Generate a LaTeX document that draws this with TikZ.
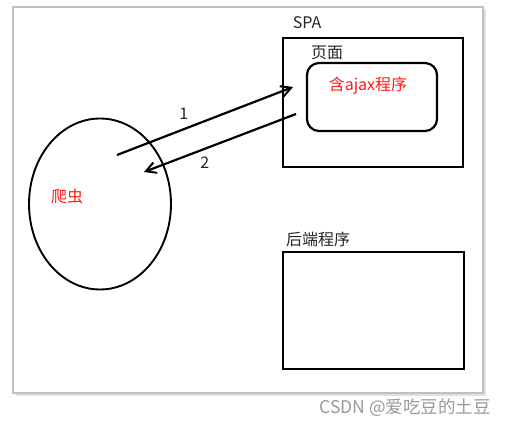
\documentclass[tikz,border=0pt]{standalone}
\usepackage{fontspec}
\setmainfont{Noto Sans CJK SC}
\usepackage{tikz}
\usetikzlibrary{arrows.meta,shapes.geometric}
\tikzstyle{Frame}=[draw=black!25, line width=1.6pt]
\tikzstyle{Box}=[draw=black, line width=2.4pt, shape=rectangle, inner sep=0pt]
\tikzstyle{Inner}=[draw=black, line width=2.2pt, shape=rectangle, rounded corners=12pt, inner sep=0pt]
\tikzstyle{Crawler}=[draw=black, line width=1.9pt, shape=ellipse, inner sep=0pt, minimum width=142pt, minimum height=171pt]
\tikzstyle{Label}=[font=\fontsize{16}{18}\selectfont, text=black!85, inner sep=0pt]
\tikzstyle{RedLabel}=[font=\fontsize{16}{18}\selectfont, text=red!90, inner sep=0pt]
\tikzstyle{arrow}=[line width=2.2pt, -{Straight Barb[length=10pt, width=11pt, line width=2pt]}]

\begin{document}
\begin{tikzpicture}[x=1pt, y=-1pt]
	\useasboundingbox (0,0) rectangle (517,427);
	% outer frame with its shadow
	\draw [draw=black!12, line width=2.5pt] (16,395) -- (485,395) -- (485,9);
	\draw [style=Frame] (13,7) rectangle (483,393);
	% nodes
	\node [style=Box, minimum width=180pt, minimum height=129pt] (spa) at (373, 102.5) {};
	\node [style=Label] (spalabel) at (307, 23) {SPA};
	\node [style=Label] (pagelabel) at (327, 53) {页面};
	\node [style=Inner, minimum width=130pt, minimum height=68pt] (ajax) at (372, 97) {};
	\node [style=RedLabel] (ajaxlabel) at (368, 86) {含ajax程序};
	\node [style=Crawler] (crawler) at (100, 204) {};
	\node [style=RedLabel] (crawlerlabel) at (67, 196) {爬虫};
	\node [style=Box, minimum width=181pt, minimum height=117pt] (backend) at (373.5, 310.5) {};
	\node [style=Label] (backendlabel) at (318, 239) {后端程序};
	\node [font=\fontsize{17.5}{19}\selectfont, text=black!40, inner sep=0pt] (mark) at (405, 408) {CSDN @爱吃豆的土豆};
	% connectors
	\coordinate (reqstart) at (117, 155);
	\coordinate (reqend) at (293, 87);
	\coordinate (respstart) at (296, 114);
	\coordinate (respend) at (144, 172);
	\draw [style=arrow] (reqstart) to node[pos=0.38, above=9pt, style=Label] {1} (reqend);
	\draw [style=arrow] (respstart) to node[pos=0.6, below=7pt, style=Label] {2} (respend);
\end{tikzpicture}
\end{document}
